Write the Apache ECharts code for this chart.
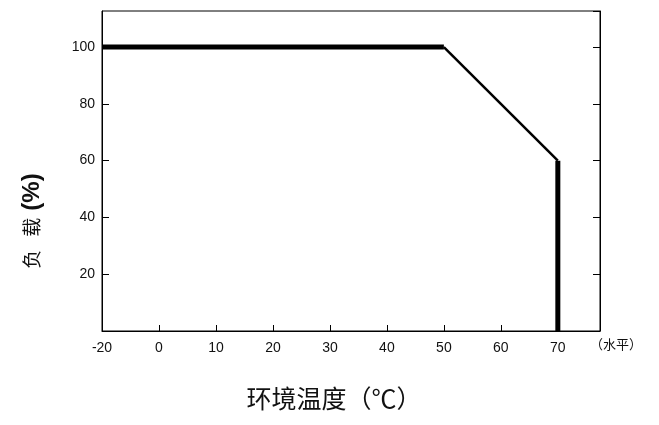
<!DOCTYPE html>
<html>
<head>
<meta charset="utf-8">
<script src="https://cdn.jsdelivr.net/npm/echarts@6/dist/echarts.min.js"></script>
<style>html,body{margin:0;padding:0;background:#fff}#c{width:659px;height:425px}</style>
</head>
<body>
<div id="c"></div>
<script>
// Tick labels on the (non-uniform) temperature axis, one per tick step
const tempTicks = ['-20', '0', '10', '20', '30', '40', '50', '60', '70'];
// Derating curve vertices: ambient temperature (°C) and load (%)
const curveTemps = ['-20', '50', '70', '70'];
const curveLoads = [100, 100, 60, 0];
// Y tick values
const loadTicks = [20, 40, 60, 80, 100];

// position on the axis = index of the temperature's tick
const points = curveTemps.map((t, i) => [tempTicks.indexOf(t), curveLoads[i]]);
const segWidths = [5, 2.5, 5];

const chart = echarts.init(document.getElementById('c'), null, {renderer: 'canvas'});
const labelFont = {color: '#111', fontSize: 14, fontFamily: '"Liberation Sans", Arial, sans-serif'};

const series = segWidths.map((w, i) => ({
  type: 'line',
  data: points.slice(i, i + 2),
  symbol: 'none',
  lineStyle: {color: '#000', width: w, cap: 'butt', join: 'miter'},
  animation: false,
  silent: true,
  xAxisIndex: 0,
  yAxisIndex: 0
}));

chart.setOption({
  animation: false,
  grid: {left: 102, right: 59, top: 11, bottom: 94, show: true, borderColor: '#000', borderWidth: 1},
  xAxis: {
    type: 'value',
    min: 0, max: 8.74, interval: 1,
    axisLine: {show: true, onZero: false, lineStyle: {color: '#000', width: 1}},
    axisTick: {show: true, inside: true, length: 6, lineStyle: {color: '#000'}},
    axisLabel: Object.assign({margin: 10, showMaxLabel: false,
      formatter: v => (Number.isInteger(v) && tempTicks[v] !== undefined) ? tempTicks[v] : ''}, labelFont),
    splitLine: {show: false}
  },
  yAxis: [{
    type: 'value',
    min: 0, max: 112.7, interval: 20,
    axisLine: {show: true, lineStyle: {color: '#000', width: 1}},
    axisTick: {show: true, inside: true, length: 7, lineStyle: {color: '#000'}},
    axisLabel: Object.assign({margin: 7, showMinLabel: false, showMaxLabel: false,
      formatter: v => loadTicks.includes(v) ? String(v) : ''}, labelFont),
    splitLine: {show: false}
  }, {
    type: 'value', position: 'right',
    min: 0, max: 112.7, interval: 20,
    axisLine: {show: true, lineStyle: {color: '#000', width: 1}},
    axisTick: {show: true, inside: true, length: 7, lineStyle: {color: '#000'}},
    axisLabel: {show: false},
    splitLine: {show: false}
  }],
  series: series,
  graphic: [{
    type: 'text',
    x: 32, y: 224,
    rotation: Math.PI / 2,
    style: {
      text: '{a|负}{a|载}{b|(%)}',
      align: 'center', verticalAlign: 'middle',
      rich: {
        a: {fontSize: 19, fontFamily: 'Noto Sans CJK SC', fill: '#111', padding: [0, 7, 0, 6]},
        b: {fontSize: 24, fontWeight: 'bold', fontFamily: 'Liberation Sans, Arial', fill: '#111'}
      }
    }
  }, {
    type: 'text',
    x: 334, y: 398,
    style: {
      text: '环境温度（℃）',
      align: 'center', verticalAlign: 'middle',
      fontSize: 25, fontFamily: 'Noto Sans CJK SC', fill: '#111'
    }
  }, {
    type: 'text',
    x: 616, y: 344,
    style: {
      text: '（水平）',
      align: 'center', verticalAlign: 'middle',
      fontSize: 13, fontFamily: 'Noto Sans CJK SC', fill: '#111'
    }
  }]
});
</script>
</body>
</html>
